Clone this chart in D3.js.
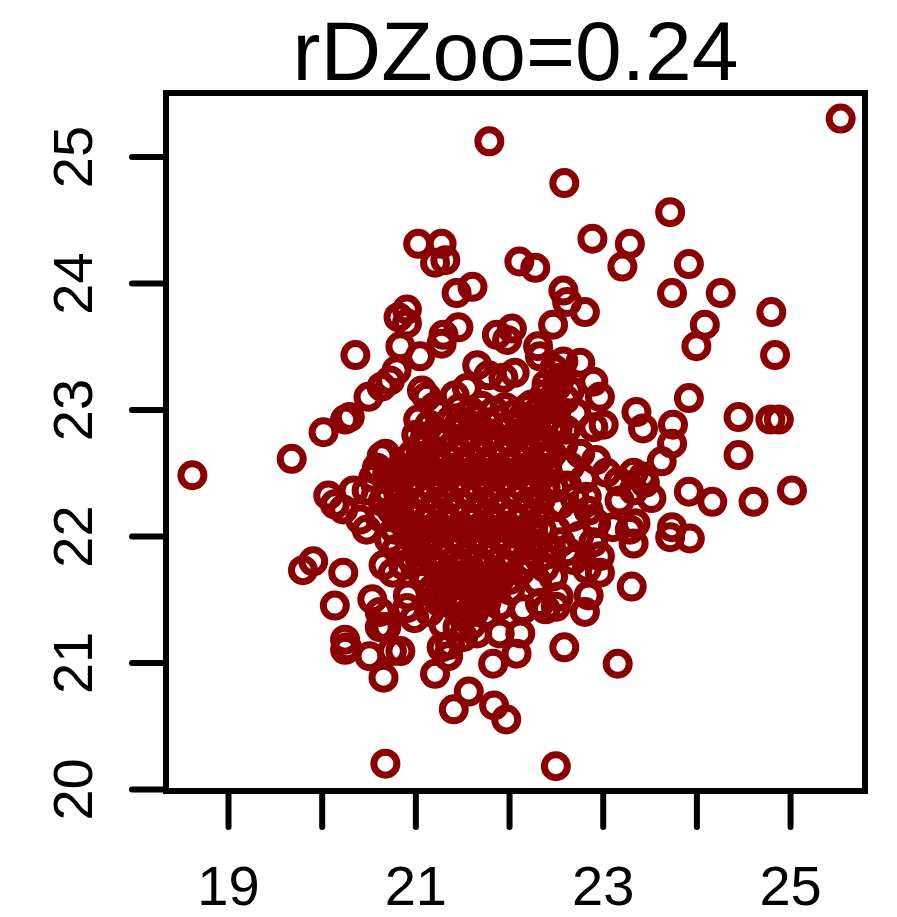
<!DOCTYPE html>
<html>
<head>
<meta charset="utf-8">
<script src="https://cdn.jsdelivr.net/npm/d3@7"></script>
<style>
  html, body { margin: 0; padding: 0; background: #ffffff; }
  svg { display: block; }
  text { font-family: "Liberation Sans", Arial, Helvetica, sans-serif; fill: #000; }
</style>
</head>
<body>
<svg id="chart" width="897" height="917"></svg>
<script>
// Chart title
const titleText = "rDZoo=0.24";

// Axis ticks and their labels (every unit ticked, odd x units labelled)
const xTicks = [19, 20, 21, 22, 23, 24, 25];
const xTickLabels = ["19", "", "21", "", "23", "", "25"];
const yTicks = [20, 21, 22, 23, 24, 25];
const yTickLabels = ["20", "21", "22", "23", "24", "25"];

// Scatter observations: x values
const xs = [
  21.79, 22.59, 22.89, 23.29, 23.21, 21.03, 21.28, 21.21, 21.32, 21.44,
  21.61, 22.11, 22.28, 22.58, 22.62, 22.81, 20.91, 25.54, 23.72, 23.92,
  23.74, 24.26, 24.80, 24.09, 24.00, 24.84, 23.92, 24.45, 24.79, 24.88,
  24.45, 25.02, 24.61, 24.17, 23.92, 23.36, 23.43, 23.75, 23.74, 23.63,
  23.43, 23.45, 23.52, 23.33, 23.35, 23.74, 23.72, 23.93, 23.33, 18.62,
  19.68, 20.02, 20.36, 20.25, 20.30, 20.50, 20.64, 20.73, 20.80, 20.84,
  20.82, 20.07, 20.14, 20.23, 20.34, 20.48, 20.55, 20.59, 20.64, 20.68,
  20.41, 20.48, 20.76, 19.80, 19.91, 20.23, 20.14, 20.25, 20.27, 20.25,
  20.54, 20.62, 20.69, 20.62, 20.51, 20.75, 20.66, 20.68, 20.66, 20.76,
  22.50, 23.16, 22.59, 23.31, 22.83, 22.97, 22.85, 22.81, 22.50, 22.39,
  22.53, 22.12, 22.08, 21.83, 22.15, 21.90, 21.21, 21.35, 21.28, 21.57,
  21.41, 21.84, 21.97, 20.99, 20.91, 20.84, 21.07, 21.23, 21.66, 21.51,
  21.37, 21.69, 22.01, 22.33, 22.30, 22.47, 22.69, 22.97, 20.92, 20.87,
  21.46, 21.30, 21.28, 21.05, 20.91, 21.87, 22.03, 21.98, 22.47, 22.31,
  22.33, 22.76, 22.90, 22.97, 23.01, 22.51, 22.24, 22.28, 22.51, 22.72,
  22.61, 22.90, 21.66, 21.78, 21.55, 21.42, 21.94, 22.06, 21.07, 21.12,
  21.03, 21.10, 21.01, 23.04, 23.17, 23.33, 23.18, 23.29, 23.11, 22.93,
  22.83, 22.76, 22.93, 22.65, 22.19,
  // core of the cloud
  21.47, 21.60, 21.71, 21.84, 21.96, 22.07, 22.19, 22.31,
  21.38, 21.52, 21.64, 21.77, 21.89, 22.02, 22.13, 22.26, 22.40,
  21.22, 21.33, 21.45, 21.58, 21.70, 21.83, 21.95, 22.08, 22.20, 22.33, 22.46,
  21.12, 21.27, 21.39, 21.52, 21.64, 21.76, 21.89, 22.01, 22.14, 22.27, 22.40,
  20.97, 21.09, 21.21, 21.34, 21.46, 21.58, 21.71, 21.83, 21.95, 22.08, 22.21, 22.33, 22.46,
  20.91, 21.03, 21.15, 21.28, 21.40, 21.52, 21.65, 21.77, 21.89, 22.02, 22.14, 22.27, 22.40,
  20.86, 20.98, 21.10, 21.22, 21.35, 21.47, 21.59, 21.71, 21.84, 21.96, 22.08, 22.21, 22.34,
  20.81, 20.93, 21.05, 21.17, 21.29, 21.41, 21.53, 21.66, 21.78, 21.90, 22.03, 22.15, 22.27, 22.39,
  20.82, 20.99, 21.11, 21.23, 21.35, 21.47, 21.60, 21.72, 21.84, 21.97, 22.09, 22.21, 22.34,
  20.83, 20.93, 21.05, 21.17, 21.29, 21.41, 21.54, 21.66, 21.78, 21.91, 22.03, 22.16, 22.28,
  20.86, 20.99, 21.11, 21.23, 21.36, 21.48, 21.60, 21.72, 21.85, 21.97, 22.10, 22.23,
  20.92, 21.05, 21.17, 21.29, 21.42, 21.54, 21.66, 21.79, 21.91, 22.04, 22.17,
  21.01, 21.13, 21.25, 21.37, 21.49, 21.61, 21.74, 21.86, 21.98, 22.11,
  21.16, 21.28, 21.41, 21.53, 21.65, 21.78, 21.90, 22.03,
  21.22, 21.35, 21.47, 21.59, 21.72, 21.84, 21.97,
  21.27, 21.41, 21.53, 21.66, 21.78, 21.91,
  21.33, 21.46, 21.58, 21.71, 21.83,
  21.39, 21.52, 21.64, 21.76,
  21.50, 21.63,
  // rings around the core
  22.58, 22.70, 22.68, 22.75, 22.80, 22.85, 22.62, 22.90, 22.52, 22.42,
  22.55, 22.50, 22.45, 22.38, 22.55, 22.62, 22.48,
  22.40, 22.45, 22.55, 22.60, 22.48, 22.58, 22.65, 22.38,
  21.15, 21.25, 21.05, 21.20,
  20.70, 20.75, 20.78, 20.65, 20.72, 20.80, 20.62, 20.70,
  21.05, 21.12, 21.18, 21.25, 21.15, 21.30, 21.45, 21.60, 21.75, 21.90,
  22.00, 22.12, 22.22, 22.28, 22.35
];

// Scatter observations: y values (same order as xs)
const ys = [
  25.12, 24.79, 24.35, 24.31, 24.13, 24.31, 24.31, 24.16, 24.18, 23.92,
  23.97, 24.17, 24.12, 23.94, 23.85, 23.77, 23.79, 25.30, 24.56, 24.15,
  23.92, 23.92, 23.77, 23.67, 23.50, 23.43, 23.09, 22.94, 22.92, 22.92,
  22.64, 22.36, 22.27, 22.27, 22.35, 22.98, 22.85, 22.88, 22.73, 22.59,
  22.47, 22.42, 22.30, 22.36, 22.10, 22.07, 21.99, 21.98, 21.94, 22.48,
  22.61, 22.82, 23.43, 22.92, 22.94, 23.10, 23.18, 23.23, 23.31, 23.50,
  23.73, 22.32, 22.25, 22.21, 22.36, 22.36, 22.46, 22.54, 22.63, 22.65,
  22.13, 22.05, 22.47, 21.73, 21.80, 21.71, 21.45, 21.18, 21.12, 21.10,
  21.50, 21.40, 21.28, 21.28, 21.05, 21.09, 20.88, 20.20, 21.77, 21.71,
  20.18, 20.99, 21.12, 21.60, 21.74, 21.71, 21.53, 21.40, 21.44, 21.42,
  21.52, 21.23, 21.07, 20.99, 21.42, 21.23, 20.91, 21.05, 21.12, 20.77,
  20.63, 20.66, 20.55, 21.35, 21.43, 21.09, 21.71, 21.52, 21.23, 21.20,
  21.14, 21.57, 21.57, 21.47, 21.64, 21.68, 21.81, 21.84, 21.53, 21.77,
  23.65, 23.59, 23.52, 23.42, 23.68, 23.59, 23.64, 23.55, 23.67, 23.50,
  23.42, 23.37, 23.22, 23.10, 22.88, 23.18, 23.04, 22.92, 23.00, 22.97,
  22.84, 22.86, 23.35, 23.27, 23.17, 23.11, 23.25, 23.29, 23.15, 23.10,
  22.92, 22.77, 22.80, 22.50, 22.43, 22.50, 22.28, 22.05, 22.07, 22.10,
  22.31, 22.65, 22.60, 22.55, 22.68,
  // core of the cloud
  23.01, 22.98, 23.03, 22.99, 23.02, 22.97, 23.01, 22.99,
  22.92, 22.89, 22.93, 22.90, 22.92, 22.88, 22.93, 22.90, 22.92,
  22.83, 22.80, 22.84, 22.81, 22.83, 22.80, 22.84, 22.81, 22.83, 22.80, 22.83,
  22.72, 22.75, 22.71, 22.74, 22.72, 22.75, 22.71, 22.74, 22.72, 22.75, 22.71,
  22.65, 22.62, 22.66, 22.63, 22.65, 22.62, 22.66, 22.63, 22.65, 22.62, 22.66, 22.63, 22.65,
  22.54, 22.57, 22.53, 22.56, 22.54, 22.57, 22.53, 22.56, 22.54, 22.57, 22.53, 22.56, 22.54,
  22.47, 22.44, 22.48, 22.45, 22.47, 22.44, 22.48, 22.45, 22.47, 22.44, 22.48, 22.45, 22.47,
  22.36, 22.39, 22.35, 22.38, 22.36, 22.39, 22.35, 22.38, 22.36, 22.39, 22.35, 22.38, 22.36, 22.39,
  22.29, 22.26, 22.30, 22.27, 22.29, 22.26, 22.30, 22.27, 22.29, 22.26, 22.30, 22.27, 22.29,
  22.18, 22.21, 22.17, 22.20, 22.18, 22.21, 22.17, 22.20, 22.18, 22.21, 22.17, 22.20, 22.18,
  22.11, 22.08, 22.12, 22.09, 22.11, 22.08, 22.12, 22.09, 22.11, 22.08, 22.12, 22.09,
  22.00, 22.03, 21.99, 22.02, 22.00, 22.03, 21.99, 22.02, 22.00, 22.03, 21.99,
  21.93, 21.90, 21.94, 21.91, 21.93, 21.90, 21.94, 21.91, 21.93, 21.90,
  21.82, 21.85, 21.81, 21.84, 21.82, 21.85, 21.81, 21.84,
  21.75, 21.72, 21.76, 21.73, 21.75, 21.72, 21.76,
  21.64, 21.67, 21.63, 21.66, 21.64, 21.67,
  21.57, 21.54, 21.58, 21.55, 21.57,
  21.46, 21.49, 21.45, 21.48,
  21.37, 21.40,
  // rings around the core
  22.72, 22.30, 22.15, 22.00, 22.45, 22.20, 21.88, 21.95, 22.85, 23.00,
  22.25, 22.05, 21.90, 21.75, 21.95, 22.40, 22.38,
  23.20, 23.08, 23.25, 23.08, 23.32, 23.38, 23.15, 23.12,
  22.88, 22.97, 22.70, 23.02,
  22.35, 22.20, 22.05, 22.27, 21.97, 21.90, 22.15, 22.50,
  21.80, 21.65, 21.58, 21.48, 21.40, 21.30, 21.28, 21.30, 21.38, 21.45,
  21.65, 21.72, 21.80, 21.92, 22.05
];

const points = xs.map((x, i) => ({ x: x, y: ys[i] }));

const svg = d3.select("#chart");
const plot = { left: 166, right: 865, top: 93, bottom: 791 };

const x = d3.scaleLinear().domain([18.338, 25.80]).range([plot.left, plot.right]);
const y = d3.scaleLinear().domain([19.984, 25.502]).range([plot.bottom, plot.top]);

const mark = "#8B0000";

// points: open circles
svg.append("g")
  .selectAll("circle")
  .data(points)
  .join("circle")
  .attr("cx", d => x(d.x))
  .attr("cy", d => y(d.y))
  .attr("r", 11.5)
  .attr("fill", "none")
  .attr("stroke", mark)
  .attr("stroke-width", 7);

// frame around the plotting region
svg.append("rect")
  .attr("x", plot.left)
  .attr("y", plot.top)
  .attr("width", plot.right - plot.left)
  .attr("height", plot.bottom - plot.top)
  .attr("fill", "none")
  .attr("stroke", "#000")
  .attr("stroke-width", 6);

// bottom axis
const xAxis = svg.append("g")
  .attr("transform", `translate(0,${plot.bottom})`)
  .call(d3.axisBottom(x).tickValues(xTicks).tickSize(36).tickPadding(0)
    .tickFormat((d, i) => xTickLabels[i]));
xAxis.select(".domain").remove();
xAxis.selectAll(".tick line").attr("stroke", "#000").attr("stroke-width", 6).attr("stroke-linecap", "round");
xAxis.selectAll(".tick text")
  .attr("y", 114).attr("dy", null)
  .style("font-size", "56px");

// left axis
const yAxis = svg.append("g")
  .attr("transform", `translate(${plot.left},0)`)
  .call(d3.axisLeft(y).tickValues(yTicks).tickSize(34)
    .tickFormat((d, i) => yTickLabels[i]));
yAxis.select(".domain").remove();
yAxis.selectAll(".tick line").attr("stroke", "#000").attr("stroke-width", 6).attr("stroke-linecap", "round");
yAxis.selectAll(".tick text")
  .attr("x", null).attr("dy", null)
  .attr("text-anchor", "middle")
  .attr("transform", "translate(-74,0) rotate(-90)")
  .style("font-size", "56px");

// title
svg.append("text")
  .attr("x", (plot.left + plot.right) / 2)
  .attr("y", 80)
  .attr("text-anchor", "middle")
  .style("font-size", "84px")
  .text(titleText);
</script>
</body>
</html>
